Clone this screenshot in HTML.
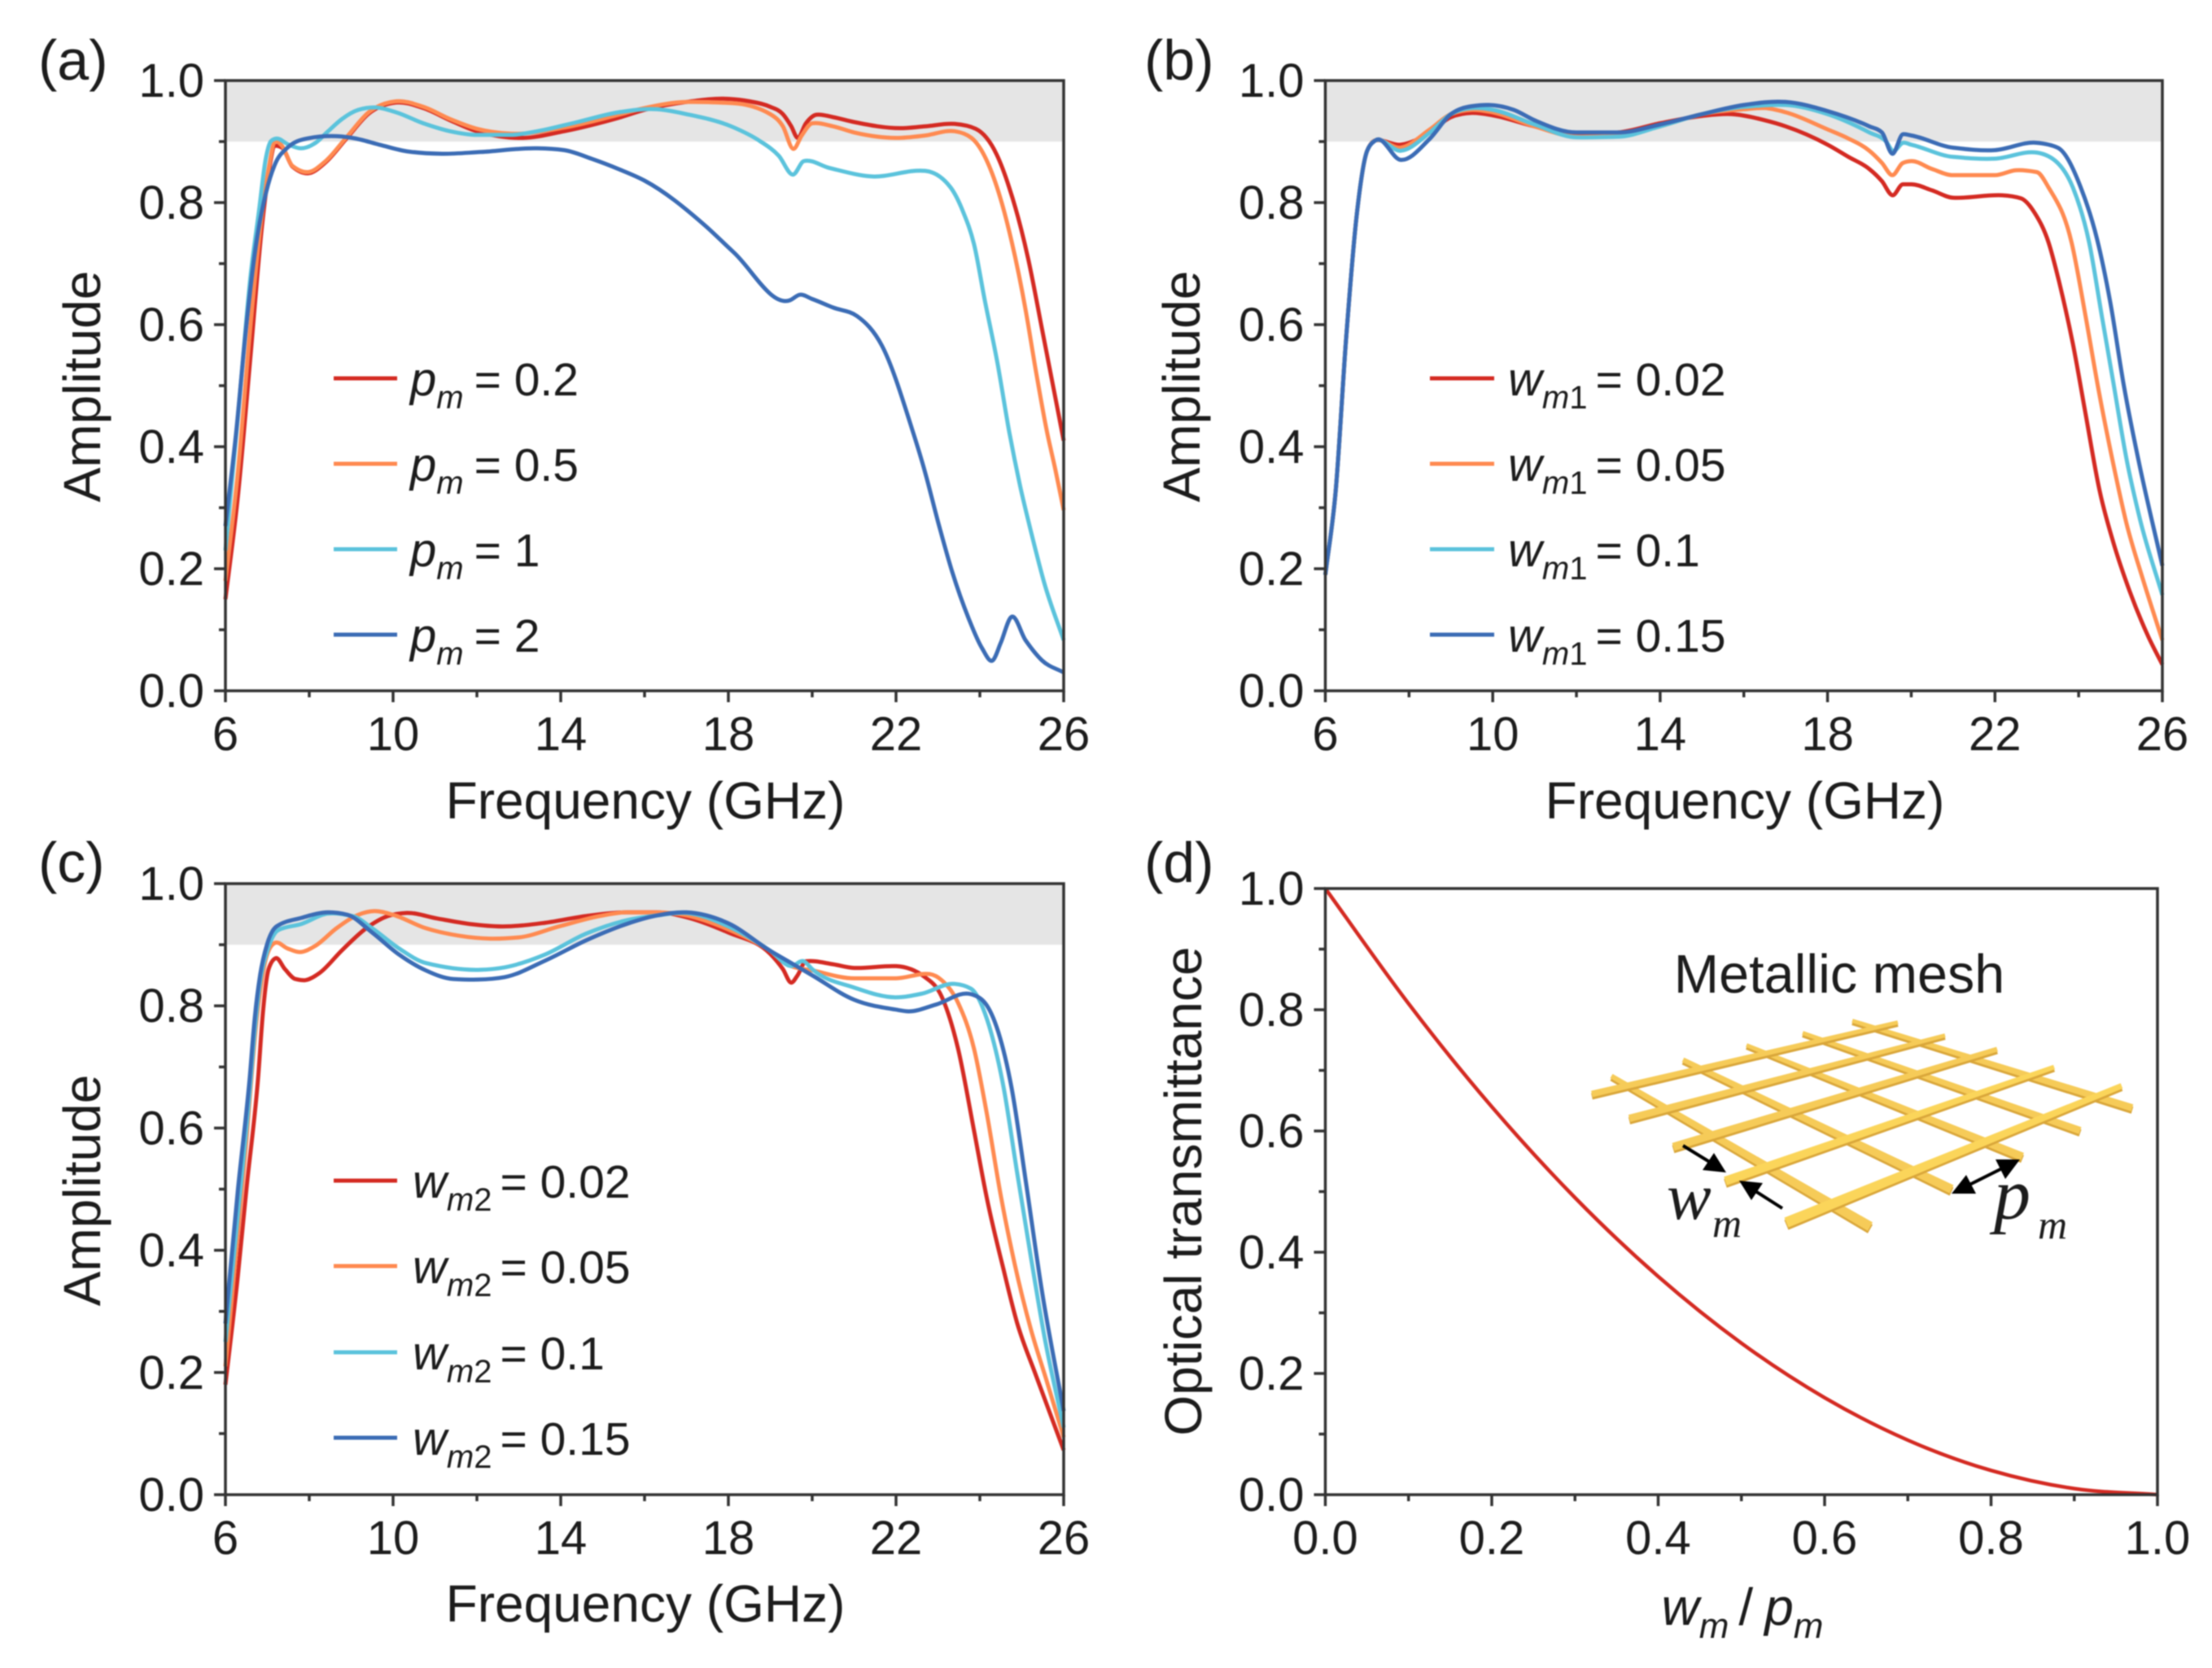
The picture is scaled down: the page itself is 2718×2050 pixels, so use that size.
<!DOCTYPE html>
<html lang="en">
<head>
<meta charset="utf-8">
<title>Amplitude and optical transmittance of metallic mesh</title>
<style>
html,body{margin:0;padding:0;background:#fff;width:2718px;height:2050px;overflow:hidden}
svg{display:block;filter:blur(0.7px)}
text{font-family:"Liberation Sans",sans-serif;fill:#1c1c1c}
.serif{font-family:"Liberation Serif",serif;font-style:italic}
</style>
</head>
<body>
<svg id="figure" xmlns="http://www.w3.org/2000/svg" width="2718" height="2050" viewBox="0 0 2718 2050">
  <rect width="2718" height="2050" fill="#fff"/>
  <g id="panels"></g>

  <g font-size="58">
    <line x1="410" x2="488" y1="465" y2="465" stroke="#d42a22" stroke-width="5"/>
    <text x="504" y="486"><tspan font-style="italic">p</tspan><tspan font-style="italic" font-size="40" dy="16">m</tspan><tspan dx="13" dy="-16" font-size="57">= 0.2</tspan></text>
    <line x1="410" x2="488" y1="570" y2="570" stroke="#ff8a50" stroke-width="5"/>
    <text x="504" y="591"><tspan font-style="italic">p</tspan><tspan font-style="italic" font-size="40" dy="16">m</tspan><tspan dx="13" dy="-16" font-size="57">= 0.5</tspan></text>
    <line x1="410" x2="488" y1="675" y2="675" stroke="#5bc3dc" stroke-width="5"/>
    <text x="504" y="696"><tspan font-style="italic">p</tspan><tspan font-style="italic" font-size="40" dy="16">m</tspan><tspan dx="13" dy="-16" font-size="57">= 1</tspan></text>
    <line x1="410" x2="488" y1="780" y2="780" stroke="#3b6cb5" stroke-width="5"/>
    <text x="504" y="801"><tspan font-style="italic">p</tspan><tspan font-style="italic" font-size="40" dy="16">m</tspan><tspan dx="13" dy="-16" font-size="57">= 2</tspan></text>
  </g>

  <g font-size="58">
    <line x1="1757" x2="1836" y1="465" y2="465" stroke="#d42a22" stroke-width="5"/>
    <text x="1853" y="486"><tspan font-style="italic">w</tspan><tspan font-style="italic" font-size="40" dy="16">m</tspan><tspan font-size="40">1</tspan><tspan dx="10" dy="-16" font-size="57">= 0.02</tspan></text>
    <line x1="1757" x2="1836" y1="570" y2="570" stroke="#ff8a50" stroke-width="5"/>
    <text x="1853" y="591"><tspan font-style="italic">w</tspan><tspan font-style="italic" font-size="40" dy="16">m</tspan><tspan font-size="40">1</tspan><tspan dx="10" dy="-16" font-size="57">= 0.05</tspan></text>
    <line x1="1757" x2="1836" y1="675" y2="675" stroke="#5bc3dc" stroke-width="5"/>
    <text x="1853" y="696"><tspan font-style="italic">w</tspan><tspan font-style="italic" font-size="40" dy="16">m</tspan><tspan font-size="40">1</tspan><tspan dx="10" dy="-16" font-size="57">= 0.1</tspan></text>
    <line x1="1757" x2="1836" y1="780" y2="780" stroke="#3b6cb5" stroke-width="5"/>
    <text x="1853" y="801"><tspan font-style="italic">w</tspan><tspan font-style="italic" font-size="40" dy="16">m</tspan><tspan font-size="40">1</tspan><tspan dx="10" dy="-16" font-size="57">= 0.15</tspan></text>
  </g>

  <g font-size="58">
    <line x1="410" x2="488" y1="1451" y2="1451" stroke="#d42a22" stroke-width="5"/>
    <text x="507" y="1472"><tspan font-style="italic">w</tspan><tspan font-style="italic" font-size="40" dy="16">m</tspan><tspan font-size="40">2</tspan><tspan dx="10" dy="-16" font-size="57">= 0.02</tspan></text>
    <line x1="410" x2="488" y1="1556" y2="1556" stroke="#ff8a50" stroke-width="5"/>
    <text x="507" y="1577"><tspan font-style="italic">w</tspan><tspan font-style="italic" font-size="40" dy="16">m</tspan><tspan font-size="40">2</tspan><tspan dx="10" dy="-16" font-size="57">= 0.05</tspan></text>
    <line x1="410" x2="488" y1="1662" y2="1662" stroke="#5bc3dc" stroke-width="5"/>
    <text x="507" y="1683"><tspan font-style="italic">w</tspan><tspan font-style="italic" font-size="40" dy="16">m</tspan><tspan font-size="40">2</tspan><tspan dx="10" dy="-16" font-size="57">= 0.1</tspan></text>
    <line x1="410" x2="488" y1="1767" y2="1767" stroke="#3b6cb5" stroke-width="5"/>
    <text x="507" y="1788"><tspan font-style="italic">w</tspan><tspan font-style="italic" font-size="40" dy="16">m</tspan><tspan font-size="40">2</tspan><tspan dx="10" dy="-16" font-size="57">= 0.15</tspan></text>
  </g>

  <text x="47" y="98" font-size="70">(a)</text>
  <text x="1406" y="98" font-size="70">(b)</text>
  <text x="47" y="1084" font-size="70">(c)</text>
  <text x="1406" y="1084" font-size="70">(d)</text>

  <text x="793" y="1006" font-size="64" text-anchor="middle">Frequency (GHz)</text>
  <text x="2144" y="1006" font-size="64" text-anchor="middle">Frequency (GHz)</text>
  <text x="793" y="1993" font-size="64" text-anchor="middle">Frequency (GHz)</text>
  <text x="2141" y="1997" font-size="64" text-anchor="middle"><tspan font-style="italic">w</tspan><tspan font-style="italic" font-size="44" dy="16">m</tspan><tspan dx="12" dy="-16">/</tspan><tspan dx="14" font-style="italic">p</tspan><tspan font-style="italic" font-size="44" dy="16">m</tspan></text>

  <text transform="translate(123 475) rotate(-90)" font-size="64" text-anchor="middle">Amplitude</text>
  <text transform="translate(1474 475) rotate(-90)" font-size="64" text-anchor="middle">Amplitude</text>
  <text transform="translate(123 1463) rotate(-90)" font-size="64" text-anchor="middle">Amplitude</text>
  <text transform="translate(1476 1464) rotate(-90)" font-size="64" text-anchor="middle">Optical transmittance</text>

  <g>
    <text x="2260" y="1220" font-size="66.5" text-anchor="middle">Metallic mesh</text>
    <g id="mesh"></g>
    <g stroke="#000" stroke-width="4" fill="#000">
      <line x1="2068" y1="1408" x2="2112" y2="1435"/>
      <polygon points="2121,1441 2092,1438 2106,1417" stroke="none"/>
      <line x1="2190" y1="1485" x2="2146" y2="1457"/>
      <polygon points="2137,1451 2166,1454 2152,1475" stroke="none"/>
      <line x1="2408" y1="1462" x2="2472" y2="1430"/>
      <polygon points="2398,1467 2428,1467 2416,1444" stroke="none"/>
      <polygon points="2482,1425 2452,1425 2464,1449" stroke="none"/>
    </g>
    <text class="serif" x="2048" y="1498" font-size="82">w</text>
    <text class="serif" x="2104" y="1520" font-size="50">m</text>
    <text class="serif" x="2450" y="1498" font-size="90">p</text>
    <text class="serif" x="2504" y="1522" font-size="50">m</text>
  </g>
</svg>
<script>
// ---------- tick labels ----------
const freqTicks = [6, 10, 14, 18, 22, 26];
const freqMinorTicks = [8, 12, 16, 20, 24];
const unitTicks = [0, 0.2, 0.4, 0.6, 0.8, 1];
const unitMinorTicks = [0.1, 0.3, 0.5, 0.7, 0.9];

// ---------- panel (a) ----------
const aRedF = [6,6.3,6.6,6.87,7.03,7.18,7.35,7.6,7.97,8.39,8.9,9.42,10.07,10.72,11.36,12,13.1,14.08,15.38,16,17,18,18.5,19,19.3,19.5,19.65,19.85,20.1,20.5,21,22.1,22.7,23.4,23.9,24.4,24.7,25.15,25.48,26];
const aRedV = [.15,.32,.55,.76,.848,.893,.89,.859,.848,.866,.906,.946,.964,.955,.935,.917,.906,.917,.939,.952,.965,.97,.966,.957,.945,.925,.906,.93,.944,.94,.932,.922,.925,.929,.921,.879,.825,.709,.594,.41];
const aOrangeF = [6,6.3,6.6,6.87,7.03,7.18,7.35,7.6,7.97,8.39,8.9,9.42,10.07,10.72,11.36,12,12.8,14.08,15.38,16,17,18.1,19,19.3,19.55,19.75,20,20.5,21,22,22.7,23.4,23.8,24.41,24.76,25.09,25.34,25.6,25.8,26];
const aOrangeV = [.18,.36,.6,.78,.855,.9,.893,.86,.85,.868,.908,.948,.966,.957,.937,.921,.913,.923,.944,.955,.965,.963,.945,.925,.888,.91,.93,.925,.915,.906,.91,.917,.906,.825,.736,.625,.523,.425,.363,.296];
const aCyanF = [6,6.3,6.6,6.8,6.97,7.09,7.22,7.48,7.8,8.13,8.45,8.78,9.17,9.55,10.07,10.72,11.36,12,12.8,13.44,14.4,15.38,16.3,17,18.1,18.75,19.2,19.55,19.8,20.4,21.4,22.7,23.3,23.6,23.86,24.12,24.41,24.7,24.96,25.22,25.54,26];
const aCyanV = [.23,.45,.68,.786,.875,.901,.905,.896,.889,.897,.917,.937,.952,.956,.948,.93,.917,.911,.911,.917,.932,.948,.953,.945,.924,.901,.877,.846,.868,.857,.843,.852,.825,.785,.732,.639,.541,.425,.336,.261,.176,.083];
const aBlueF = [6,6.25,6.5,6.75,6.97,7.17,7.48,7.94,8.52,9.03,9.67,10.33,11.17,12.1,13.44,14.08,14.73,15.38,16,17.45,18.12,19.47,19.7,20,20.5,21.07,21.66,22.4,22.69,23.01,23.34,23.73,24.05,24.31,24.5,24.75,25.09,25.48,26];
const aBlueV = [.27,.42,.6,.74,.817,.861,.89,.905,.909,.906,.895,.884,.88,.883,.889,.886,.872,.855,.836,.762,.719,.64,.649,.642,.628,.614,.566,.425,.359,.275,.195,.119,.07,.05,.079,.121,.083,.05,.03];

// ---------- panel (b) ----------
const bRedF = [6,6.25,6.5,6.75,7,7.2,7.8,8.5,9,9.5,10,11,12,13,14,15,15.7,16.5,17,18,18.5,19,19.3,19.55,19.8,20,20.5,21,22.17,22.62,22.95,23.28,23.53,23.86,24.17,24.5,24.83,25.22,25.67,26];
const bRedV = [.19,.33,.58,.78,.885,.902,.895,.915,.94,.947,.943,.925,.912,.915,.93,.942,.945,.935,.925,.895,.875,.855,.835,.812,.83,.83,.82,.808,.812,.807,.783,.735,.671,.569,.452,.328,.243,.163,.088,.043];
const bOrangeF = [6,6.25,6.5,6.75,7,7.2,7.8,8.5,9,9.5,10,11,12,13,14,15,16,16.5,17,18,18.5,19,19.3,19.55,19.8,20,20.5,21,22,22.5,23,23.28,23.83,24.17,24.5,24.83,25.14,25.53,26];
const bOrangeV = [.19,.33,.58,.78,.885,.902,.89,.92,.945,.952,.948,.925,.908,.91,.925,.945,.953,.955,.948,.92,.905,.885,.865,.845,.865,.868,.855,.845,.845,.853,.85,.825,.735,.612,.484,.371,.275,.184,.083];
const bCyanF = [6,6.25,6.5,6.75,7,7.2,7.8,8.5,9,9.5,10,11,12,13,14,15,16,17,18,19,19.4,19.55,19.8,20,21,22,23,23.5,23.86,24.25,24.56,24.83,25.14,25.47,26];
const bCyanV = [.19,.33,.58,.78,.885,.902,.885,.915,.945,.955,.952,.928,.907,.908,.925,.945,.957,.96,.945,.915,.9,.885,.898,.895,.875,.872,.882,.865,.825,.735,.612,.505,.381,.28,.157];
const bBlueF = [6,6.25,6.5,6.75,7,7.2,7.8,8.5,9,9.5,9.9,10.5,11,12,13,14,15,16,17,18,19,19.3,19.55,19.8,20,21,22,23,23.5,24.05,24.44,24.75,25.08,25.42,26];
const bBlueV = [.19,.33,.58,.78,.885,.902,.87,.905,.945,.958,.96,.952,.935,.915,.915,.928,.945,.96,.965,.95,.925,.915,.88,.912,.91,.89,.886,.898,.89,.825,.74,.639,.5,.381,.205];

// ---------- panel (c) ----------
const cRedF = [6,6.3,6.5,6.78,6.9,7.03,7.2,7.42,7.67,7.9,8.25,8.78,9.36,9.88,10.33,11.05,11.83,12.6,13.63,14.6,15.57,16.3,17,18,19,19.3,19.5,19.65,19.85,20.5,21,22,22.69,23.09,23.48,23.86,24.17,24.57,24.89,25.34,26];
const cRedV = [.18,.36,.5,.683,.794,.86,.878,.86,.844,.842,.854,.891,.927,.947,.952,.943,.934,.93,.936,.947,.953,.953,.945,.92,.885,.86,.838,.85,.873,.868,.862,.865,.847,.815,.73,.596,.484,.367,.281,.195,.073];
const cOrangeF = [6,6.5,6.75,7,7.18,7.48,7.77,8.14,8.65,9.17,9.55,10,10.78,11.55,12.33,12.99,13.96,14.93,15.57,16.3,17,18,19,19.5,20,21,22,22.8,23.09,23.48,23.86,24.17,24.5,24.83,25.22,25.6,26];
const cOrangeV = [.21,.58,.78,.885,.903,.894,.888,.898,.927,.949,.955,.949,.927,.915,.91,.912,.93,.947,.953,.953,.948,.925,.89,.865,.858,.845,.845,.852,.842,.805,.73,.622,.489,.378,.27,.185,.094];
const cCyanF = [6,6.3,6.58,6.7,6.83,7,7.26,7.81,8.45,9.03,9.5,10.14,10.78,12.08,12.66,13.63,14.6,15.57,16.3,17,18,19,19.5,19.8,20,21,21.98,22.62,23.4,23.79,24.17,24.57,24.89,25.22,25.54,26];
const cCyanV = [.25,.46,.66,.76,.84,.89,.924,.934,.951,.947,.927,.894,.87,.859,.863,.884,.918,.94,.948,.952,.93,.89,.865,.873,.86,.83,.814,.82,.836,.828,.778,.665,.527,.388,.259,.11];
const cBlueF = [6,6.3,6.58,6.7,6.83,6.99,7.22,7.81,8.45,8.91,9.5,10.14,10.78,11.44,12.02,12.66,13.63,14.6,15.57,16.3,17,18,19,19.5,20,21,21.98,22.3,22.95,23.79,24.12,24.44,24.76,25.09,25.48,26];
const cBlueV = [.28,.5,.683,.781,.851,.9,.93,.944,.953,.949,.92,.884,.858,.844,.843,.847,.874,.907,.934,.948,.953,.935,.89,.87,.85,.81,.794,.791,.802,.819,.805,.757,.665,.516,.334,.137];

// ---------- panel (d) ----------
const dRatio = [0,.1,.2,.3,.4,.5,.6,.7,.8,.9,1];
const dTransmittance = [1,.81,.64,.49,.36,.25,.16,.09,.04,.01,0];

const red = '#d42a22', orange = '#ff8a50', cyan = '#5bc3dc', blue = '#3b6cb5';
const NS = 'http://www.w3.org/2000/svg';
const panelsRoot = document.getElementById('panels');

function el(parent, tag, attrs) {
  const e = document.createElementNS(NS, tag);
  for (const k in attrs) e.setAttribute(k, attrs[k]);
  parent.appendChild(e);
  return e;
}

// smooth cubic path through the read points (clamped three-point tangents)
function curvePath(xs, ys) {
  const n = xs.length, d = [], m = [];
  for (let i = 0; i < n - 1; i++) d.push((ys[i + 1] - ys[i]) / (xs[i + 1] - xs[i]));
  m[0] = d[0]; m[n - 1] = d[n - 2];
  for (let i = 1; i < n - 1; i++) {
    const h0 = xs[i] - xs[i - 1], h1 = xs[i + 1] - xs[i];
    const s = (h1 * d[i - 1] + h0 * d[i]) / (h0 + h1);
    const sameSign = d[i - 1] * d[i] > 0;
    const limit = (sameSign ? 2 : 1) * Math.min(Math.abs(d[i - 1]), Math.abs(d[i]));
    m[i] = Math.max(-limit, Math.min(limit, s));
  }
  let p = 'M' + xs[0].toFixed(1) + ' ' + ys[0].toFixed(1);
  for (let i = 0; i < n - 1; i++) {
    const h = (xs[i + 1] - xs[i]) / 3;
    p += 'C' + (xs[i] + h).toFixed(1) + ' ' + (ys[i] + m[i] * h).toFixed(1) + ' ' +
         (xs[i + 1] - h).toFixed(1) + ' ' + (ys[i + 1] - m[i + 1] * h).toFixed(1) + ' ' +
         xs[i + 1].toFixed(1) + ' ' + ys[i + 1].toFixed(1);
  }
  return p;
}

function drawPanel(cfg) {
  const g = el(panelsRoot, 'g', {});
  
  
  const X = v => cfg.left + (v - cfg.xMin) / (cfg.xMax - cfg.xMin) * (cfg.right - cfg.left);
  const Y = v => cfg.bottom - v * (cfg.bottom - cfg.top);

  if (cfg.band) {
    const band = el(g, 'rect', { x: cfg.left, y: Y(1), width: cfg.right - cfg.left, height: Y(0.9) - Y(1), fill: '#e5e5e5' });
    
    
  }
  cfg.series.forEach(s => {
    const path = el(g, 'path', {
      d: curvePath(s.x.map(X), s.y.map(Y)), fill: 'none', stroke: s.color,
      'stroke-width': cfg.lineWidth, 'stroke-linejoin': 'round'
    });
    
    
  });

  const frame = el(g, 'rect', { x: cfg.left, y: cfg.top, width: cfg.right - cfg.left, height: cfg.bottom - cfg.top, fill: 'none', stroke: '#333', 'stroke-width': 3.5 });
  
  

  cfg.xTicks.forEach(v => {
    const t = el(g, 'line', { x1: X(v), x2: X(v), y1: cfg.bottom, y2: cfg.bottom + 14, stroke: '#333', 'stroke-width': 3.5 });
    
    
    const label = el(g, 'text', { x: X(v), y: cfg.bottom + 73, 'font-size': cfg.tickFont, 'text-anchor': 'middle' });
    label.textContent = cfg.xFormat(v);
    
    
  });
  cfg.xMinor.forEach(v => {
    const t = el(g, 'line', { x1: X(v), x2: X(v), y1: cfg.bottom, y2: cfg.bottom + 8, stroke: '#333', 'stroke-width': 3.5 });
    
    
  });
  unitTicks.forEach(v => {
    const t = el(g, 'line', { x1: cfg.left, x2: cfg.left - 14, y1: Y(v), y2: Y(v), stroke: '#333', 'stroke-width': 3.5 });
    
    
    const label = el(g, 'text', { x: cfg.left - 26, y: Y(v) + 20, 'font-size': cfg.tickFont, 'text-anchor': 'end' });
    label.textContent = v.toFixed(1);
    
    
  });
  unitMinorTicks.forEach(v => {
    const t = el(g, 'line', { x1: cfg.left, x2: cfg.left - 8, y1: Y(v), y2: Y(v), stroke: '#333', 'stroke-width': 3.5 });
    
    
  });
}

const freqAxis = { xMin: 6, xMax: 26, xTicks: freqTicks, xMinor: freqMinorTicks, xFormat: v => String(v), band: true, lineWidth: 5, tickFont: 58 };

drawPanel(Object.assign({}, freqAxis, {
  id: 'a', left: 277, right: 1307, top: 99, bottom: 849,
  series: [
    { name: 'pm-0.2', color: red, x: aRedF, y: aRedV },
    { name: 'pm-0.5', color: orange, x: aOrangeF, y: aOrangeV },
    { name: 'pm-1', color: cyan, x: aCyanF, y: aCyanV },
    { name: 'pm-2', color: blue, x: aBlueF, y: aBlueV }
  ]
}));
drawPanel(Object.assign({}, freqAxis, {
  id: 'b', left: 1628.5, right: 2657, top: 99, bottom: 849,
  series: [
    { name: 'wm1-0.02', color: red, x: bRedF, y: bRedV },
    { name: 'wm1-0.05', color: orange, x: bOrangeF, y: bOrangeV },
    { name: 'wm1-0.1', color: cyan, x: bCyanF, y: bCyanV },
    { name: 'wm1-0.15', color: blue, x: bBlueF, y: bBlueV }
  ]
}));
drawPanel(Object.assign({}, freqAxis, {
  id: 'c', left: 277, right: 1307, top: 1086, bottom: 1837,
  series: [
    { name: 'wm2-0.02', color: red, x: cRedF, y: cRedV },
    { name: 'wm2-0.05', color: orange, x: cOrangeF, y: cOrangeV },
    { name: 'wm2-0.1', color: cyan, x: cCyanF, y: cCyanV },
    { name: 'wm2-0.15', color: blue, x: cBlueF, y: cBlueV }
  ]
}));
drawPanel({
  id: 'd', left: 1628.5, right: 2651, top: 1092, bottom: 1837,
  xMin: 0, xMax: 1, xTicks: unitTicks, xMinor: unitMinorTicks, xFormat: v => v.toFixed(1),
  band: false, lineWidth: 4.5, tickFont: 58,
  series: [{ name: 'transmittance', color: red, x: dRatio, y: dTransmittance }]
});

// ---------- mesh illustration (tapered gold bars) ----------
const meshBars = [
  [1980,1323,2298,1508,3,6],
  [2068,1303,2398,1462,3,5.5],
  [2146,1285,2485,1422,2.5,5],
  [2215,1270,2556,1390,2.5,4.5],
  [2276,1255,2620,1362,2.5,4.5],
  [1956,1345,2332,1257,4,2.5],
  [2002,1375,2390,1273,4.5,2.5],
  [2056,1410,2454,1290,5,3],
  [2120,1452,2524,1312,5.5,3],
  [2195,1503,2607,1335,6.5,3.5]
];
const meshRoot = document.getElementById('mesh');
meshBars.forEach((b, i) => {
  const dx = b[2] - b[0], dy = b[3] - b[1], len = Math.hypot(dx, dy);
  const nx = -dy / len, ny = dx / len;
  const pts = off => [
    [b[0] + nx * b[4], b[1] + ny * b[4] + off],
    [b[2] + nx * b[5], b[3] + ny * b[5] + off],
    [b[2] - nx * b[5], b[3] - ny * b[5] + off],
    [b[0] - nx * b[4], b[1] - ny * b[4] + off]
  ].map(p => p[0].toFixed(1) + ',' + p[1].toFixed(1)).join(' ');
  const shade = el(meshRoot, 'polygon', { points: pts(2.5), fill: '#d9a63a' });
  
  
  const top = el(meshRoot, 'polygon', { points: pts(-0.5), fill: i >= 8 ? '#fbd55a' : '#f6cb58' });
  
  
});
</script>
</body>
</html>
